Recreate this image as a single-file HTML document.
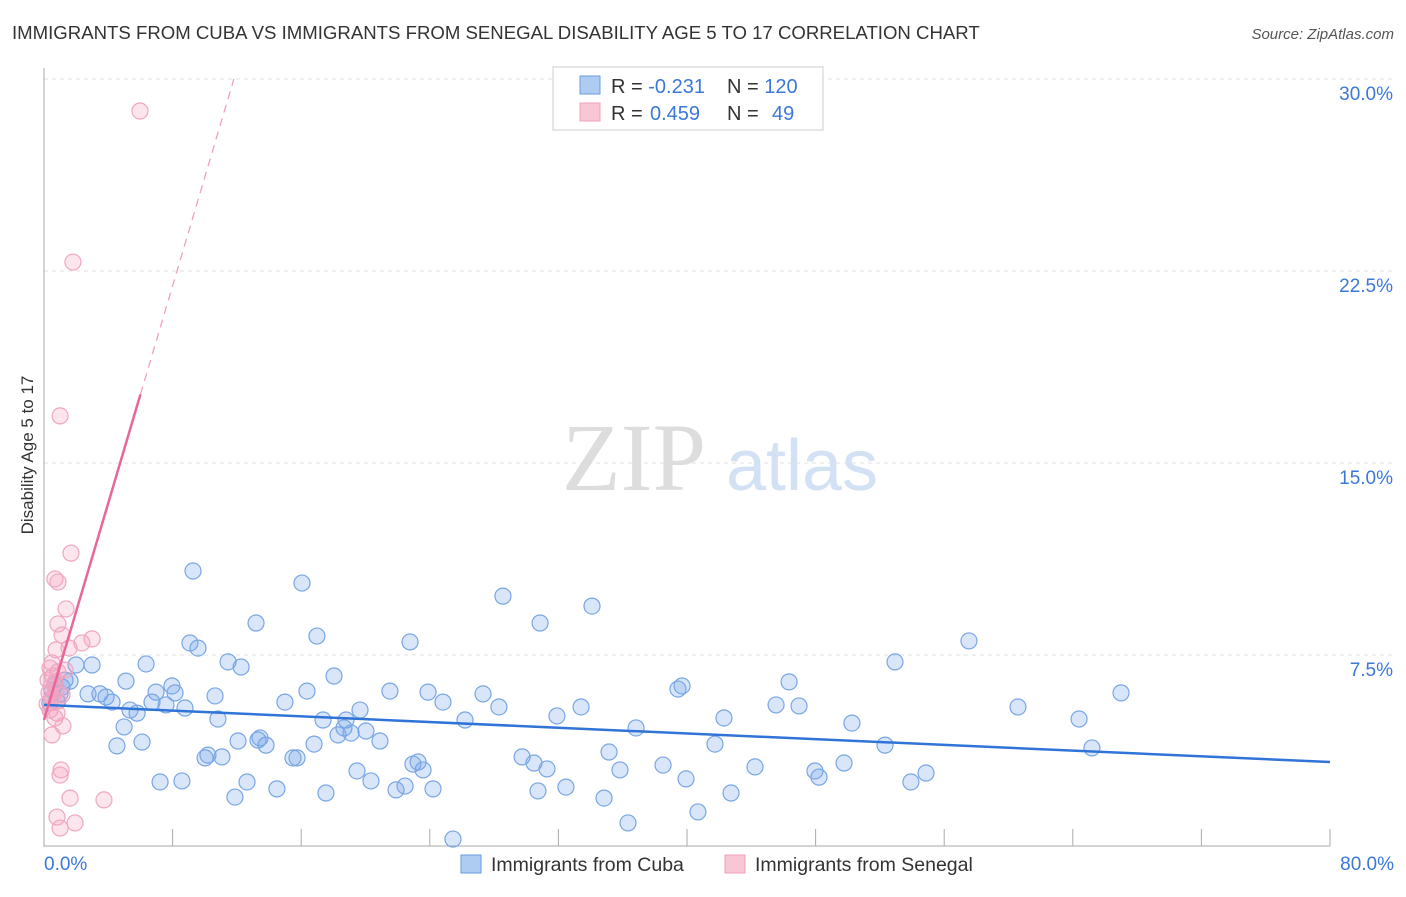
<!DOCTYPE html>
<html><head><meta charset="utf-8"><style>
body{margin:0;background:#fff;font-family:"Liberation Sans",sans-serif}
</style></head><body>
<svg width="1406" height="892" viewBox="0 0 1406 892" xmlns="http://www.w3.org/2000/svg">
<text x="12" y="39" font-size="18.6" fill="#333">IMMIGRANTS FROM CUBA VS IMMIGRANTS FROM SENEGAL DISABILITY AGE 5 TO 17 CORRELATION CHART</text>
<text x="1394" y="39" font-size="15" fill="#555" font-style="italic" text-anchor="end">Source: ZipAtlas.com</text>
<g id="grid"></g>
<g>
<text x="634" y="490" font-family="Liberation Serif,serif" font-size="96" fill="#ddd" text-anchor="middle">ZIP</text>
<text x="802" y="490" font-size="72" fill="#d3e1f4" text-anchor="middle">atlas</text>
</g>
<text transform="translate(33,455) rotate(-90)" font-size="17" fill="#333" text-anchor="middle">Disability Age 5 to 17</text>
<g id="axes"></g>
<g id="pts"></g>
<g id="trend"></g>
<g>
<rect x="553" y="67" width="270" height="63" fill="#fff" stroke="#ccc"/>
<rect x="580" y="76" width="20" height="18" fill="#aecbf2" stroke="#6a9de0"/>
<rect x="580" y="103" width="20" height="18" fill="#f9c6d6" stroke="#f0a0bc"/>
<text x="611" y="93" font-size="20" fill="#333">R = <tspan fill="#3b78d8">-0.231</tspan><tspan x="727">N = </tspan><tspan fill="#3b78d8">120</tspan></text>
<text x="611" y="120" font-size="20" fill="#333">R = <tspan fill="#3b78d8" x="650">0.459</tspan><tspan x="727">N = </tspan><tspan fill="#3b78d8" x="772">49</tspan></text>
</g>
<g>
<rect x="461" y="855" width="20" height="18" fill="#aecbf2" stroke="#6a9de0"/>
<text x="491" y="871" font-size="19.5" fill="#333">Immigrants from Cuba</text>
<rect x="725" y="855" width="20" height="18" fill="#f9c6d6" stroke="#f0a0bc"/>
<text x="755" y="871" font-size="19.5" fill="#333">Immigrants from Senegal</text>
</g>
</svg>
<script>
const yTicks=[7.5,15,22.5,30];
const yTickLabels=["7.5%","15.0%","22.5%","30.0%"];
const xTickLabels=["0.0%","80.0%"];
const cubaX=[9.27,16.05,28.55,34.09,30.86,13.19,22.77,16.98,9.08,9.58,57.54,11.45,12.26,6.35,2.99,1.99,52.94,18.04,5.10,7.96,39.69,46.35,39.44,21.52,23.89,27.31,6.97,8.15,16.36,67.0,10.64,3.48,2.74,3.86,4.23,14.99,24.82,6.72,7.59,8.77,19.66,28.30,33.41,45.54,46.97,60.59,5.35,5.79,31.91,42.30,10.82,17.36,18.79,26.19,50.26,64.39,4.98,36.83,18.66,18.29,19.10,20.03,13.44,12.07,13.81,13.31,20.90,16.80,6.10,4.54,52.32,41.74,65.19,35.15,10.20,10.02,11.07,15.49,15.74,29.74,23.27,30.48,22.95,38.51,44.23,31.29,23.58,35.83,49.77,47.96,54.87,19.47,48.21,53.93,39.94,7.22,8.58,12.63,20.34,14.49,17.54,21.90,22.46,24.20,30.73,32.47,42.74,11.88,34.84,40.68,36.33,25.44,1.00,0.50,1.12,1.62,0.81,1.31,0.68,0.37];
const cubaY=[10.78,10.31,9.80,9.41,8.75,8.75,8.01,8.24,7.97,7.77,8.05,7.23,7.03,7.15,7.11,7.11,7.23,6.68,6.48,6.29,6.29,6.45,6.17,6.09,6.05,5.98,6.05,6.02,6.09,6.02,5.90,5.98,5.98,5.86,5.66,5.66,5.66,5.66,5.55,5.43,5.35,5.47,5.47,5.55,5.51,5.47,5.35,5.23,5.12,5.04,5.00,4.96,4.96,4.96,4.84,5.00,4.69,4.65,4.65,4.38,4.45,4.53,4.26,4.14,3.98,4.18,4.14,4.02,4.10,3.95,3.98,4.02,3.87,3.71,3.59,3.48,3.52,3.48,3.48,3.52,3.32,3.28,3.24,3.20,3.13,3.05,3.01,3.01,3.28,2.97,2.89,2.97,2.73,2.54,2.66,2.54,2.58,2.54,2.58,2.27,2.11,2.23,2.38,2.27,2.19,2.34,2.11,1.95,1.91,1.37,0.94,0.31,5.98,6.13,6.25,6.48,5.70,6.52,6.33,5.63];
const senX=[5.97,1.80,1.00,1.68,0.68,0.87,1.37,0.87,1.12,2.99,2.36,1.56,0.75,0.50,0.37,0.87,1.31,0.56,0.25,0.68,0.44,0.75,0.31,1.12,0.50,0.87,0.19,0.37,0.81,0.68,1.18,0.50,1.06,1.00,1.62,3.73,0.81,1.93,1.00];
const senY=[28.75,22.85,16.84,11.48,10.47,10.35,9.30,8.71,8.28,8.13,7.97,7.77,7.70,7.19,6.99,6.84,6.91,6.68,6.52,6.41,6.25,6.13,6.02,5.94,5.82,5.70,5.59,5.35,5.23,5.04,4.73,4.38,3.01,2.81,1.91,1.84,1.17,0.94,0.74];
const cubaTrend=[5.55,3.32]; // y at x=0 and x=80
const senTrend=[4.96,2.12]; // intercept, slope
const NS="http://www.w3.org/2000/svg";
const X=v=>44+v*16.075, Y=v=>847-v*25.6;
function mk(p,t,a){const e=document.createElementNS(NS,t);for(const k in a)e.setAttribute(k,a[k]);p.appendChild(e);return e;}
const grid=document.getElementById('grid'),axes=document.getElementById('axes');
yTicks.forEach((v,i)=>{
 const l=mk(grid,'line',{x1:44,x2:1394,y1:Y(v),y2:Y(v),stroke:'#e2e2e2','stroke-dasharray':'4,4'});
 
 
 const t=mk(axes,'text',{x:1393,y:Y(v)+21,'font-size':19,fill:'#3b78d8','text-anchor':'end'});
 t.textContent=yTickLabels[i];
 
 
});
mk(axes,'line',{x1:44,x2:44,y1:68,y2:847,stroke:'#aaa'});
mk(axes,'line',{x1:44,x2:1330,y1:846,y2:846,stroke:'#aaa'});
for(let k=1;k<=10;k++){const tk=mk(axes,'line',{x1:X(k*8),x2:X(k*8),y1:829,y2:846,stroke:'#aaa'});
 
 }
[[0,'start',44],[80,'end',1394]].forEach((d,i)=>{const t=mk(axes,'text',{x:d[2],y:870,'font-size':19,fill:'#3b78d8','text-anchor':d[1]});t.textContent=xTickLabels[i];
 
 });
const pts=document.getElementById('pts');
cubaX.forEach((x,i)=>{const c=mk(pts,'circle',{cx:X(x),cy:Y(cubaY[i]),r:8,fill:'rgba(120,165,235,0.28)',stroke:'#78a6e4','stroke-width':1.2});
 
 });
senX.forEach((x,i)=>{const c=mk(pts,'circle',{cx:X(x),cy:Y(senY[i]),r:8,fill:'rgba(245,160,190,0.28)',stroke:'#f0a6c0','stroke-width':1.2});
 
 });
const tr=document.getElementById('trend');
const bl=mk(tr,'line',{x1:X(0),y1:Y(cubaTrend[0]),x2:X(80),y2:Y(cubaTrend[1]),stroke:'#2f74d6','stroke-width':2.5});


const xe=6.0, xd=(30-senTrend[0])/senTrend[1];
const pl=mk(tr,'line',{x1:X(0),y1:Y(senTrend[0]),x2:X(xe),y2:Y(senTrend[0]+senTrend[1]*xe),stroke:'#e8679a','stroke-width':2.5});


const pd=mk(tr,'line',{x1:X(xe),y1:Y(senTrend[0]+senTrend[1]*xe),x2:X(xd),y2:Y(30),stroke:'#f0a0bc','stroke-width':1.3,'stroke-dasharray':'8,6'});


</script>
</body></html>
